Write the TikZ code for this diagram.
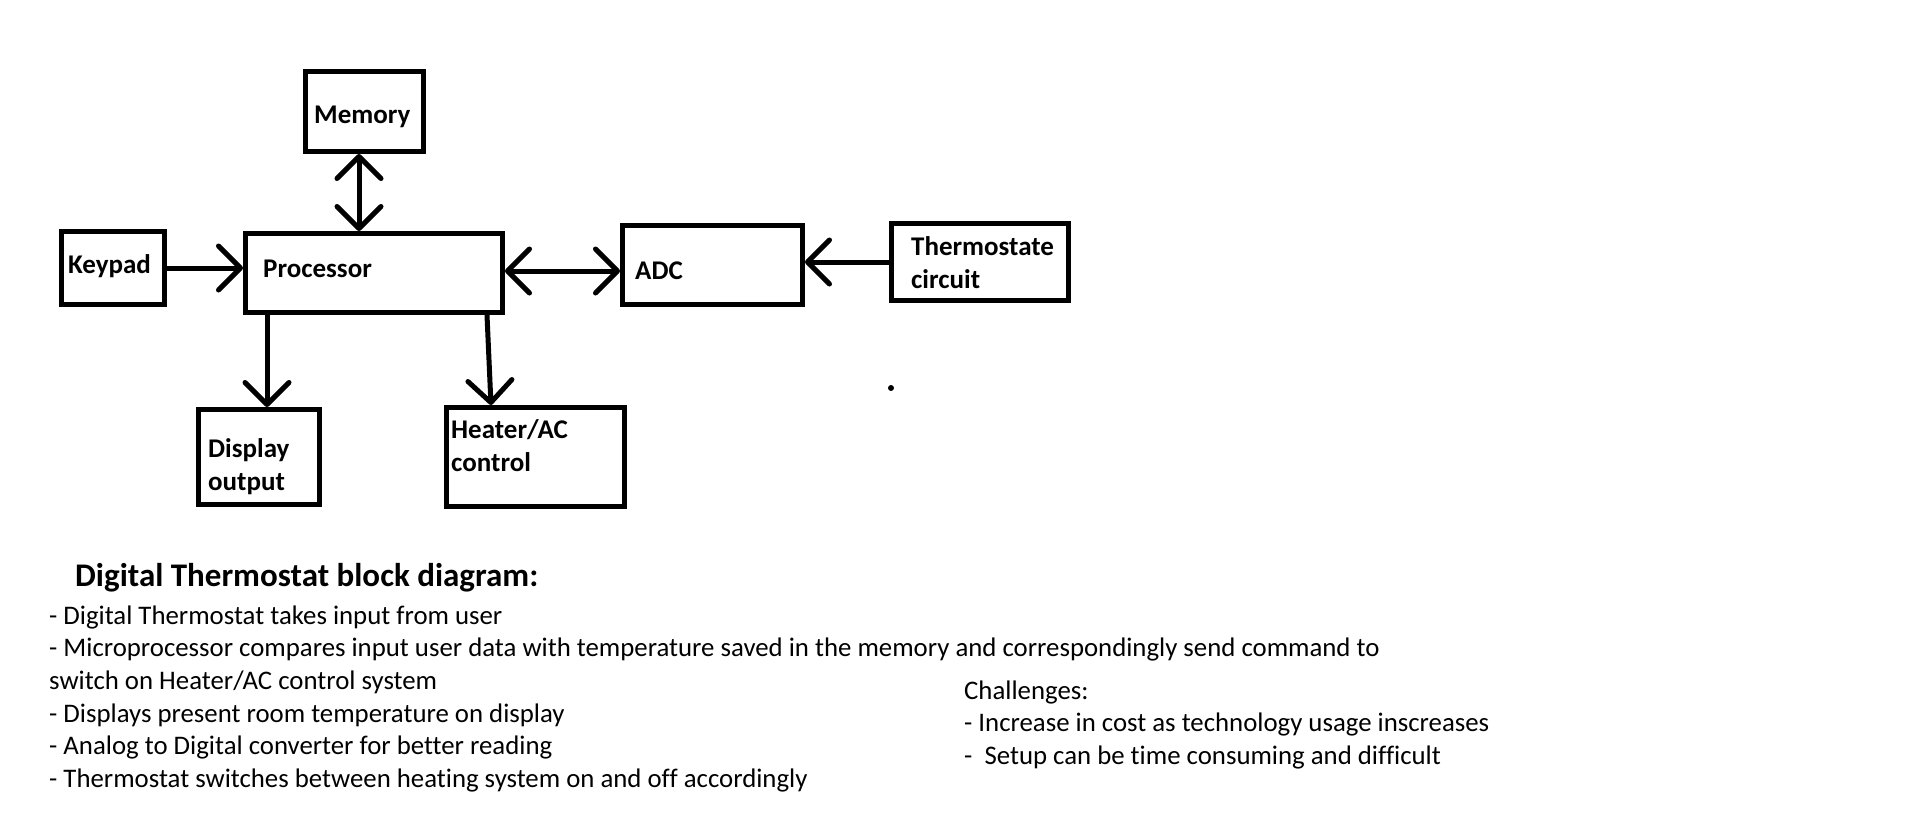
\documentclass[tikz,border=0pt]{standalone}
\usepackage{fontspec}
\setmainfont{Carlito}[Ligatures=CommonOff]
\usetikzlibrary{arrows.meta}
\begin{document}
\def\bodyfont{\fontsize{26.8}{32.7}\selectfont}%
\def\lblfont{\fontsize{27}{33}\selectfont\bfseries}%
\def\titlefont{\fontsize{33}{36}\selectfont\bfseries}%
\begin{tikzpicture}[x=1pt,y=-1pt,
  box/.style={draw, line width=5pt, rectangle, inner sep=0pt},
  lbl/.style={anchor=base west, inner sep=0pt, font=\lblfont},
  body/.style={anchor=base west, inner sep=0pt, font=\bodyfont},
  conn/.style={line width=5pt, -{Straight Barb[length=22pt,width=44pt,round]}},
  dconn/.style={line width=5pt, {Straight Barb[length=22pt,width=44pt,round]}-{Straight Barb[length=22pt,width=44pt,round]}}]
\useasboundingbox (0,0) rectangle (1914,831);
\fill[white] (0,0) rectangle (1914,831);
% boxes
\node[box, minimum width=118pt, minimum height=80pt] (mem) at (364.5,111.5) {};
\node[box, minimum width=103pt, minimum height=73pt] (key) at (113,268) {};
\node[box, minimum width=257pt, minimum height=79pt] (proc) at (374,273) {};
\node[box, minimum width=180pt, minimum height=79pt] (adc) at (712.5,265) {};
\node[box, minimum width=177pt, minimum height=77pt] (therm) at (980,262) {};
\node[box, minimum width=121pt, minimum height=95pt] (disp) at (259,457) {};
\node[box, minimum width=178pt, minimum height=99pt] (heat) at (535,457) {};
% labels
\node[lbl] (memT) at (314,123) {Memory};
\node[lbl] (keyT) at (68,273) {Keypad};
\node[lbl] (procT) at (263,277) {Processor};
\node[lbl] (adcT) at (635,279) {ADC};
\node[lbl] (thermT1) at (911,255) {Thermostate};
\node[lbl] (thermT2) at (911,288) {circuit};
\node[lbl] (dispT1) at (208,457) {Display};
\node[lbl] (dispT2) at (208,490) {output};
\node[lbl] (heatT1) at (451,438) {Heater/AC};
\node[lbl] (heatT2) at (451,471) {control};
% connector helpers
\coordinate (cm) at (359,0);
\coordinate (cpa) at (0,271);
\coordinate (cd) at (267,0);
\coordinate (ch1) at (487,0);
\coordinate (ch2) at (491,0);
% connectors
\draw[conn] (key.east) -- (key.east -| proc.west);
\draw[dconn] (mem.south -| cm) -- (proc.north -| cm);
\draw[dconn] (proc.east |- cpa) -- (adc.west |- cpa);
\draw[conn] (therm.west) -- (therm.west -| adc.east);
\draw[conn] (proc.south -| cd) -- (disp.north -| cd);
\draw[conn] (proc.south -| ch1) -- (heat.north -| ch2);
\node[circle, fill, inner sep=0pt, minimum size=6pt] (dot) at (891,388) {};
% text
\node[anchor=base west, inner sep=0pt, font=\titlefont] (title) at (75,586) {Digital Thermostat block diagram:};
\node[body] (b1) at (49,624) {- Digital Thermostat takes input from user};
\node[body] (b2) at (49,656.7) {- Microprocessor compares input user data with temperature saved in the memory and correspondingly send command to};
\node[body] (b3) at (49,689.4) {switch on Heater/AC control system};
\node[body] (b4) at (49,722.1) {- Displays present room temperature on display};
\node[body] (b5) at (49,754.8) {- Analog to Digital converter for better reading};
\node[body] (b6) at (49,787.5) {- Thermostat switches between heating system on and off accordingly};
\node[body] (c0) at (964,699) {Challenges:};
\node[body] (c1) at (964,731.7) {- Increase in cost as technology usage inscreases};
\node[body] (c2) at (964,764.4) {-\ \ Setup can be time consuming and difficult};
\end{tikzpicture}
\end{document}
